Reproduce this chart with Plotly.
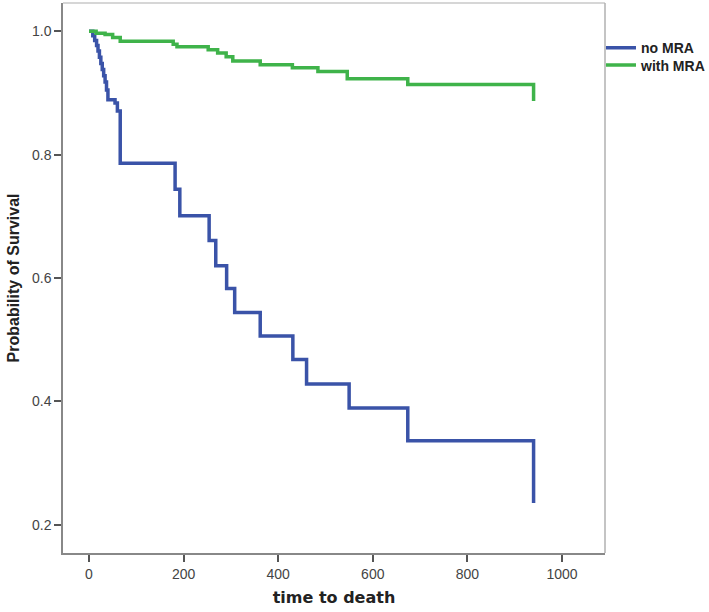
import plotly.graph_objects as go

# Kaplan-Meier step data
no_mra_time = [0, 8, 12, 16, 19, 22, 25, 28, 31, 34, 37, 40, 55, 60, 66, 182, 192, 254, 268, 291, 308, 362, 431, 460, 550, 674, 940]
no_mra_surv = [1.0, 0.993, 0.985, 0.977, 0.968, 0.958, 0.948, 0.938, 0.928, 0.918, 0.905, 0.889, 0.884, 0.871, 0.786, 0.744, 0.701, 0.661, 0.620, 0.583, 0.544, 0.506, 0.468, 0.428, 0.389, 0.336, 0.235]

with_mra_time = [0, 15, 34, 50, 66, 178, 186, 252, 272, 290, 304, 362, 430, 484, 546, 674, 940]
with_mra_surv = [1.0, 0.997, 0.995, 0.990, 0.984, 0.979, 0.975, 0.970, 0.965, 0.959, 0.952, 0.946, 0.941, 0.935, 0.923, 0.914, 0.887]

x_ticks = [0, 200, 400, 600, 800, 1000]
y_ticks = [0.2, 0.4, 0.6, 0.8, 1.0]
y_tick_text = ["0.2", "0.4", "0.6", "0.8", "1.0"]

fig = go.Figure()
fig.add_trace(go.Scatter(x=no_mra_time, y=no_mra_surv, mode="lines", name="<b>no MRA</b>",
                         legend="legend",
                         line=dict(shape="hv", color="#3a53a8", width=3.5)))
fig.add_trace(go.Scatter(x=with_mra_time, y=with_mra_surv, mode="lines", name="<b>with MRA</b>",
                         legend="legend2",
                         line=dict(shape="hv", color="#3fb34a", width=3.5)))

axis_common = dict(showgrid=False, zeroline=False, ticks="outside", ticklen=7, tickwidth=1.5,
                   tickcolor="#555555", showline=True, linecolor="#888888", linewidth=1.5,
                   tickfont=dict(family="Liberation Sans, Arial", size=14, color="#444444"))

fig.update_xaxes(range=[-55, 1091], tickvals=x_ticks, **axis_common,
                 title=dict(text="<b>time to death</b>", standoff=11,
                            font=dict(family="DejaVu Sans", size=16, color="#222222")))
fig.update_yaxes(range=[0.154, 1.046], tickvals=y_ticks, ticktext=y_tick_text, **axis_common,
                 title=dict(text="<b>Probability of Survival</b>", standoff=8,
                            font=dict(family="Liberation Sans, Arial", size=16, color="#222222")))

legend_style = dict(xanchor="left", yanchor="top", bgcolor="rgba(0,0,0,0)",
                    font=dict(family="Liberation Sans, Arial", size=14, color="#222222"),
                    itemwidth=30)

fig.update_layout(
    width=709, height=612,
    margin=dict(l=63, r=104, t=3, b=59, autoexpand=False),
    plot_bgcolor="white", paper_bgcolor="white",
    showlegend=True,
    legend=dict(x=0.9926, y=0.947, **legend_style),
    legend2=dict(x=0.9926, y=0.9155, **legend_style),
    shapes=[
        dict(type="line", xref="paper", yref="paper", x0=0, x1=1, y0=1, y1=1,
             line=dict(color="#c8c8c8", width=1.5)),
        dict(type="line", xref="paper", yref="paper", x0=1, x1=1, y0=0, y1=1,
             line=dict(color="#b0b0b0", width=1.5)),
    ],
)

fig.write_html("out.html", config={"displayModeBar": False},
               post_script="document.body.style.margin='0';")
